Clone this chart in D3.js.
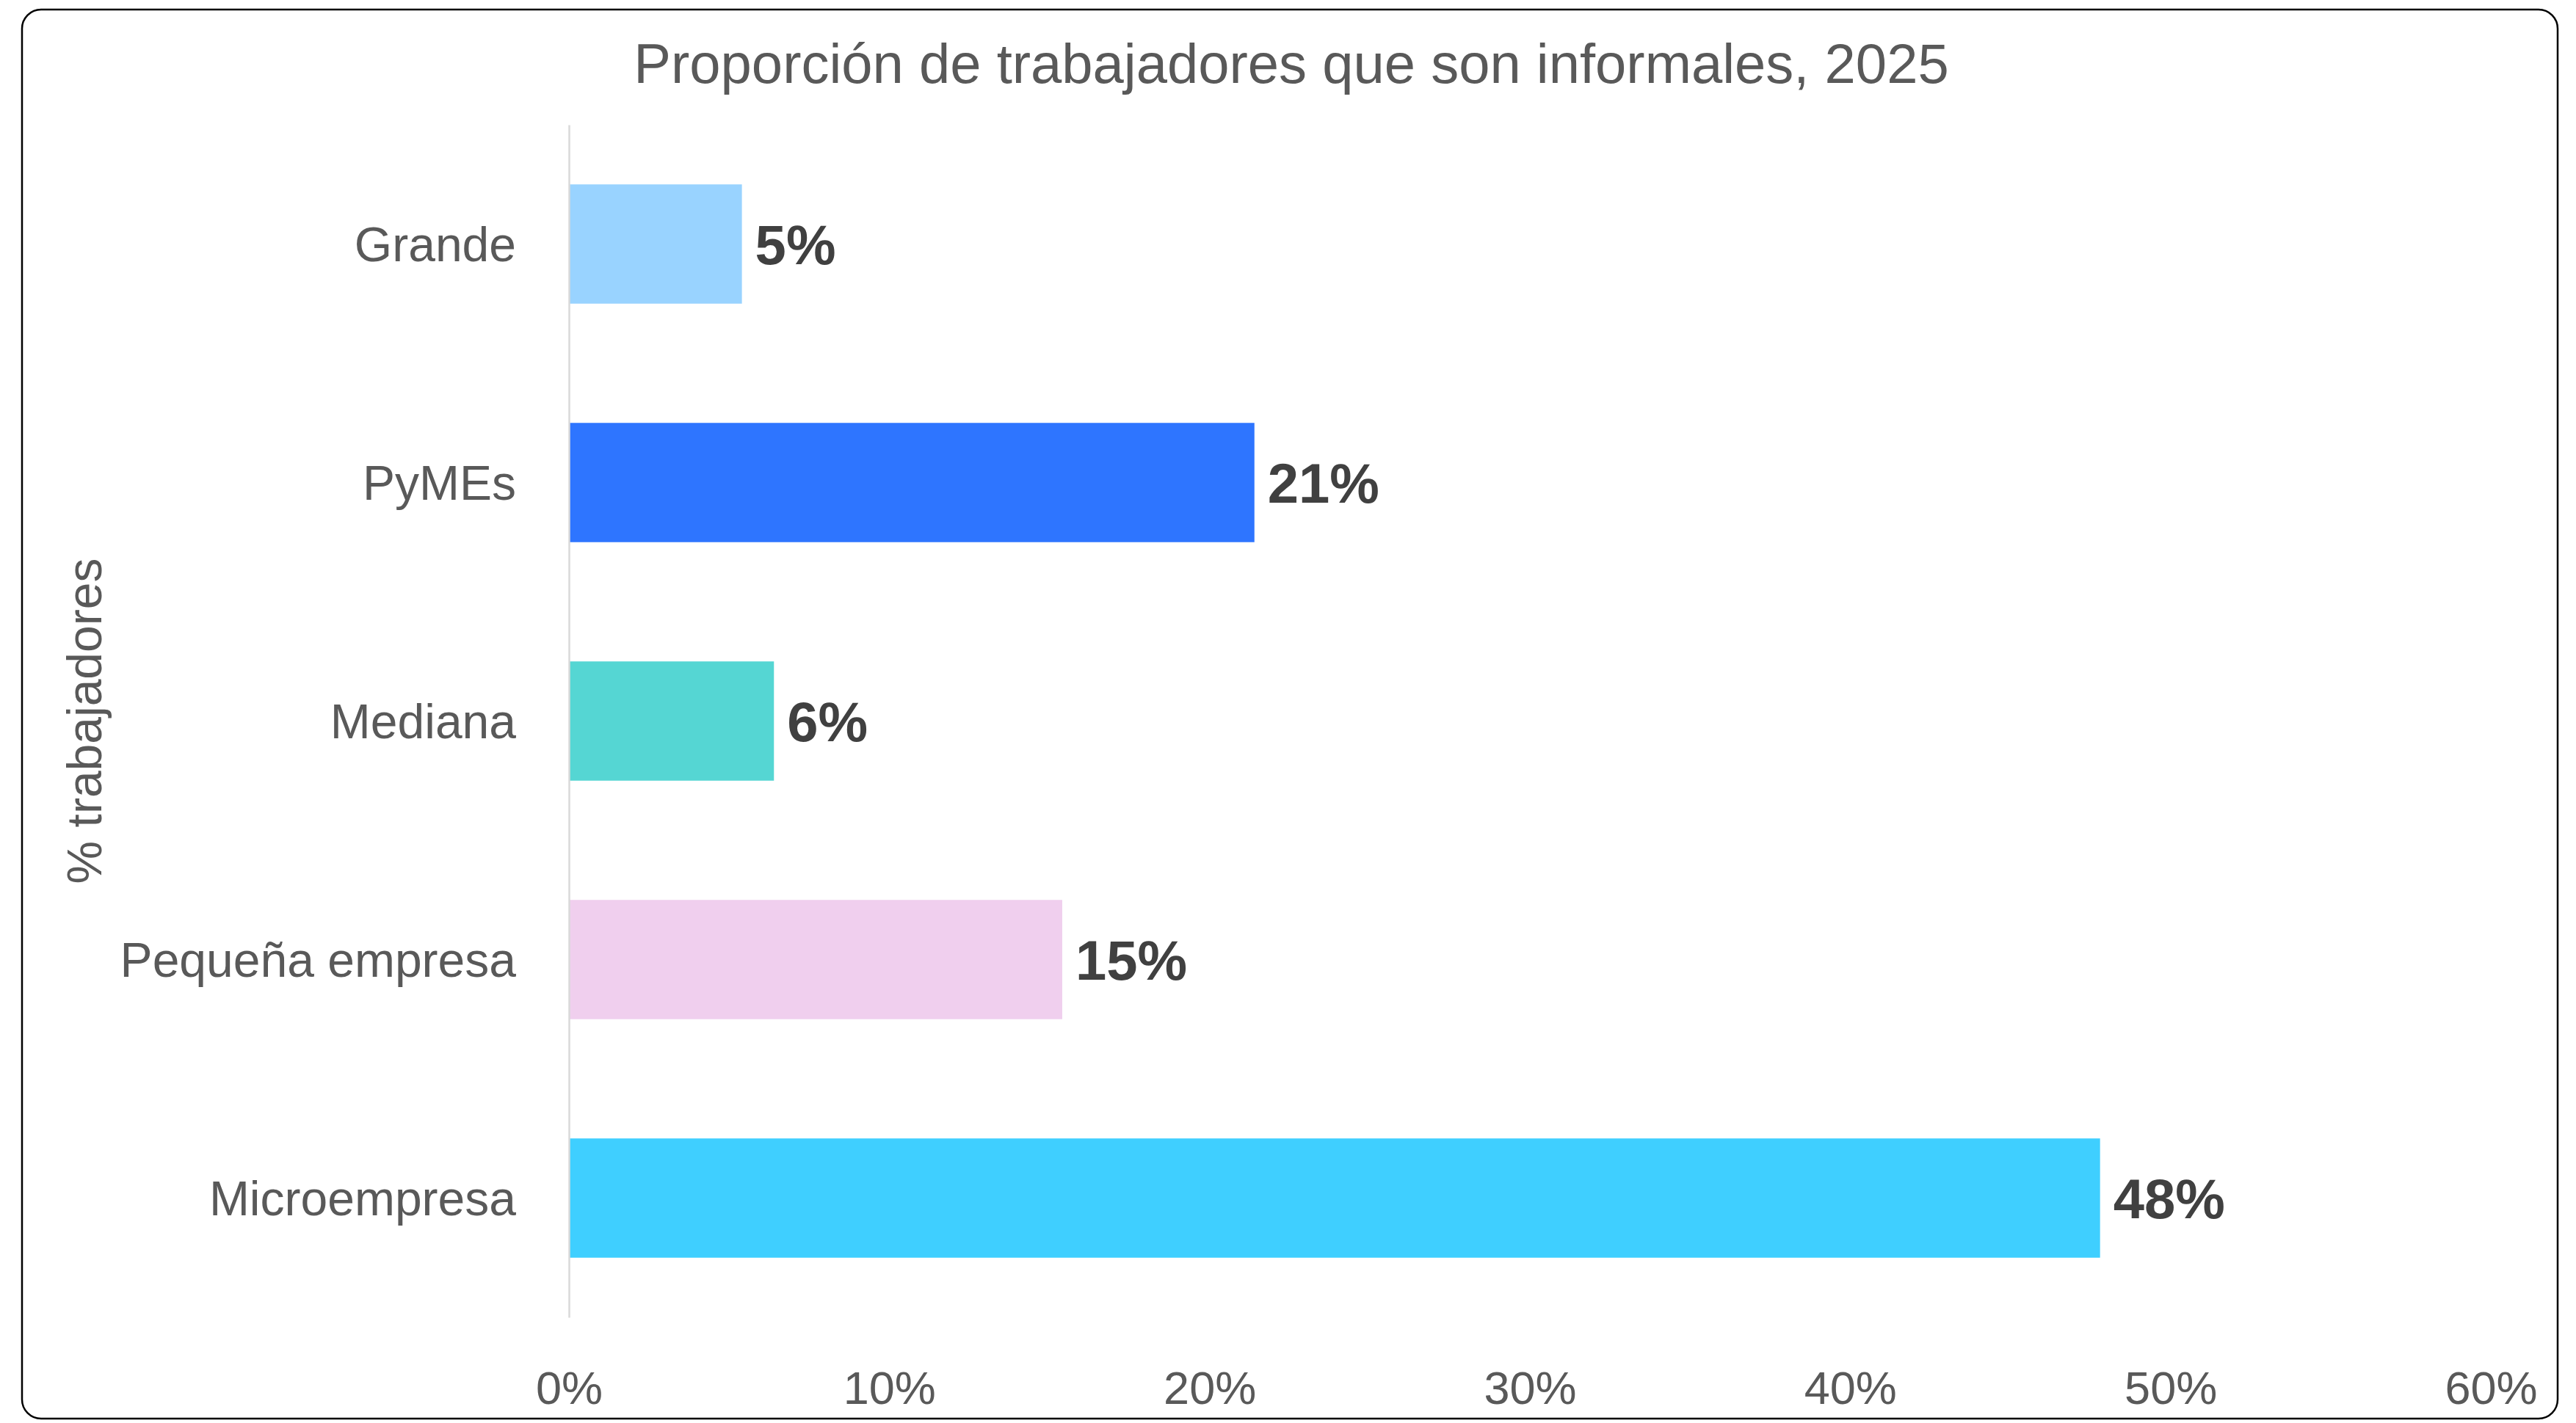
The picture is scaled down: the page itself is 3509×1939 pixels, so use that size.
<!DOCTYPE html>
<html>
<head>
<meta charset="utf-8">
<script src="https://cdn.jsdelivr.net/npm/d3@7"></script>
<style>
  body { margin: 0; background: #fff; }
  svg text { font-family: "Liberation Sans", Arial, sans-serif; }
</style>
</head>
<body>
<div id="chart"></div>
<script>
// data
var categories = ["Grande", "PyMEs", "Mediana", "Pequeña empresa", "Microempresa"];
var values = [0.054, 0.214, 0.064, 0.154, 0.478];
var barColors = ["#99d3ff", "#2e75ff", "#55d6d3", "#f0cfee", "#3fcfff"];
var xTicks = [0, 0.1, 0.2, 0.3, 0.4, 0.5, 0.6];
var title = "Proporción de trabajadores que son informales, 2025";
var yTitle = "% trabajadores";

var W = 3509, H = 1939;
var margin = {top: 170, right: 116, bottom: 144, left: 775};

var svg = d3.select("#chart").append("svg")
    .attr("width", W)
    .attr("height", H);

// frame
svg.append("rect")
    .attr("x", 30).attr("y", 13)
    .attr("width", 3454).attr("height", 1920)
    .attr("rx", 26)
    .style("fill", "#fff")
    .style("stroke", "#000")
    .style("stroke-width", 2.5);

var x = d3.scaleLinear().domain([0, 0.6]).range([margin.left, W - margin.right]);
var y = d3.scaleBand().domain(categories)
    .range([margin.top, H - margin.bottom])
    .paddingInner(0.5).paddingOuter(0.25);

var pct = d3.format(".0%");

// title
svg.append("text")
    .attr("x", 1759).attr("y", 113)
    .attr("text-anchor", "middle")
    .style("font-size", "76px")
    .style("fill", "#595959")
    .text(title);

// x axis (labels only)
var xAxis = svg.append("g")
    .attr("transform", "translate(0," + (H - margin.bottom) + ")")
    .call(d3.axisBottom(x).tickValues(xTicks).tickFormat(pct).tickSize(0));
xAxis.select(".domain").remove();
xAxis.selectAll("text")
    .attr("y", 118).attr("dy", 0)
    .style("font-size", "63px")
    .style("fill", "#595959");

// bars
svg.append("g")
  .selectAll("rect")
  .data(values)
  .enter().append("rect")
    .attr("x", x(0))
    .attr("y", function(d, i) { return y(categories[i]); })
    .attr("width", function(d) { return x(d) - x(0); })
    .attr("height", y.bandwidth())
    .style("fill", function(d, i) { return barColors[i]; });

// y axis
var yAxis = svg.append("g")
    .attr("transform", "translate(" + margin.left + ",0)")
    .call(d3.axisLeft(y).tickSize(0).tickPadding(72).tickSizeOuter(0));
yAxis.select(".domain")
    .style("stroke", "#d9d9d9")
    .style("stroke-width", 2.5);
yAxis.selectAll("text")
    .attr("dy", "0.35em")
    .style("font-size", "66px")
    .style("fill", "#595959");

// value labels
svg.append("g")
  .selectAll("text")
  .data(values)
  .enter().append("text")
    .attr("x", function(d) { return x(d) + 18; })
    .attr("y", function(d, i) { return y(categories[i]) + y.bandwidth() / 2; })
    .attr("dy", "0.36em")
    .style("font-size", "76px")
    .style("font-weight", "bold")
    .style("fill", "#404040")
    .text(function(d) { return pct(d); });

// y axis title
svg.append("text")
    .attr("transform", "translate(138," + ((margin.top + H - margin.bottom) / 2) + ") rotate(-90)")
    .attr("text-anchor", "middle")
    .style("font-size", "66px")
    .style("fill", "#595959")
    .text(yTitle);
</script>
</body>
</html>
